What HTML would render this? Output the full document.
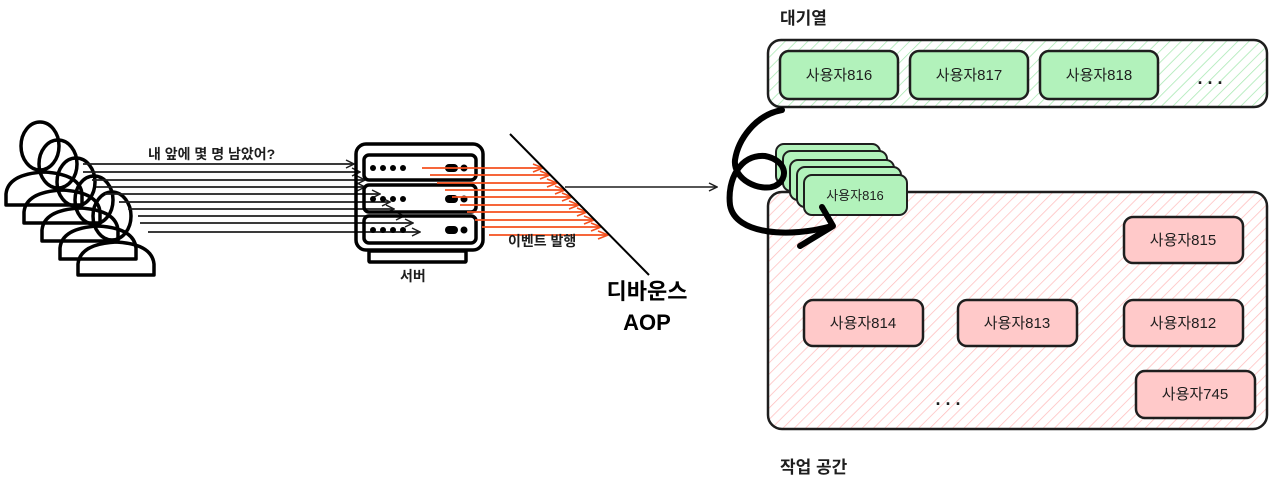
<!DOCTYPE html>
<html><head><meta charset="utf-8"><style>
html,body{margin:0;padding:0;background:#fff;}
svg{display:block;}
text{font-family:"Liberation Sans","Noto Sans CJK KR",sans-serif;}
</style></head><body>
<svg width="1280" height="486" viewBox="0 0 1280 486" xmlns="http://www.w3.org/2000/svg">
<defs>
<pattern id="hg" patternUnits="userSpaceOnUse" width="8" height="8" patternTransform="rotate(45)">
<line x1="0" y1="0" x2="0" y2="8" stroke="#a5e8b0" stroke-width="1.5"/></pattern>
<pattern id="hp" patternUnits="userSpaceOnUse" width="8" height="8" patternTransform="rotate(45)">
<line x1="0" y1="0" x2="0" y2="8" stroke="#ffbdbd" stroke-width="1.5"/></pattern>
<marker id="ab" markerWidth="10" markerHeight="10" refX="9" refY="5" orient="auto" markerUnits="userSpaceOnUse">
<path d="M1,1 L9,5 L1,9" fill="none" stroke="#1e1e1e" stroke-width="1.5"/></marker>
<marker id="ar" markerWidth="12" markerHeight="10" refX="11" refY="5" orient="auto" markerUnits="userSpaceOnUse">
<path d="M1,1 L11,5 L1,9" fill="none" stroke="#f4511e" stroke-width="1.6"/></marker>
<g id="person" fill="none" stroke="#000" stroke-width="3.5" stroke-linejoin="round">
<ellipse cx="40" cy="146" rx="19" ry="24"/>
<path d="M6 205 L6 194 Q8 174 44 172 Q80 174 82 194 L82 205 Z"/>
</g>
</defs>

<!-- people -->
<use href="#person"/>
<use href="#person" transform="translate(18,18)"/>
<use href="#person" transform="translate(36,36)"/>
<use href="#person" transform="translate(54,54)"/>
<use href="#person" transform="translate(72,70)"/>

<text x="148" y="159" font-size="14" font-weight="bold" fill="#1e1e1e">내 앞에 몇 명 남았어?</text>

<!-- black request lines -->
<g stroke="#1e1e1e" stroke-width="1.8" marker-end="url(#ab)">
<line x1="83" y1="164" x2="354" y2="164"/>
<line x1="83" y1="172" x2="360" y2="172"/>
<line x1="92" y1="180" x2="365" y2="180"/>
<line x1="96" y1="187" x2="365" y2="187"/>
<line x1="105" y1="194" x2="380" y2="194"/>
<line x1="119" y1="202" x2="390" y2="202"/>
<line x1="128" y1="209" x2="394" y2="209"/>
<line x1="138" y1="216" x2="404" y2="216"/>
<line x1="140" y1="223" x2="413" y2="223"/>
<line x1="148" y1="232" x2="420" y2="232"/>
</g>

<!-- server -->
<g fill="none" stroke="#000" stroke-width="3.5">
<rect x="356" y="144" width="127" height="106" rx="10"/>
<rect x="364" y="155" width="112" height="25" rx="5"/>
<rect x="364" y="185" width="112" height="27" rx="5"/>
<rect x="364" y="216" width="112" height="27" rx="5"/>
<rect x="369" y="251" width="97" height="11" rx="1"/>
</g>
<g fill="#000">
<circle cx="373" cy="168" r="3"/><circle cx="383" cy="168" r="3"/><circle cx="393" cy="168" r="3"/><circle cx="403" cy="168" r="3"/>
<rect x="445" y="164" width="13" height="8" rx="4"/><circle cx="464" cy="168" r="3.5"/>
<circle cx="373" cy="199" r="3"/><circle cx="383" cy="199" r="3"/><circle cx="393" cy="199" r="3"/><circle cx="403" cy="199" r="3"/>
<rect x="445" y="195" width="13" height="8" rx="4"/><circle cx="464" cy="199" r="3.5"/>
<circle cx="373" cy="230" r="3"/><circle cx="383" cy="230" r="3"/><circle cx="393" cy="230" r="3"/><circle cx="403" cy="230" r="3"/>
<rect x="445" y="226" width="13" height="8" rx="4"/><circle cx="464" cy="230" r="3.5"/>
</g>
<text x="400" y="281" font-size="14" font-weight="bold" fill="#1e1e1e">서버</text>

<!-- red arrows -->
<g stroke="#f4511e" stroke-width="1.8" marker-end="url(#ar)">
<line x1="422" y1="168" x2="543" y2="168"/>
<line x1="430" y1="175" x2="550" y2="175"/>
<line x1="437" y1="183" x2="557" y2="183"/>
<line x1="445" y1="190" x2="565" y2="190"/>
<line x1="452" y1="197" x2="572" y2="197"/>
<line x1="460" y1="205" x2="579" y2="205"/>
<line x1="467" y1="212" x2="587" y2="212"/>
<line x1="475" y1="220" x2="594" y2="220"/>
<line x1="482" y1="227" x2="601" y2="227"/>
<line x1="489" y1="235" x2="608" y2="235"/>
</g>
<line x1="510" y1="134" x2="649" y2="275" stroke="#000" stroke-width="2"/>
<line x1="565" y1="187" x2="717" y2="187" stroke="#1e1e1e" stroke-width="1.6" marker-end="url(#ab)"/>
<text x="508" y="246" font-size="14" font-weight="bold" fill="#1e1e1e">이벤트 발행</text>
<text x="647" y="299" font-size="22" font-weight="bold" fill="#000" text-anchor="middle">디바운스</text>
<text x="647" y="330" font-size="22" font-weight="bold" fill="#000" text-anchor="middle">AOP</text>

<!-- queue -->
<text x="780" y="24" font-size="17" font-weight="bold" fill="#1e1e1e">대기열</text>
<rect x="768" y="40" width="499" height="67" rx="13" fill="url(#hg)" stroke="#1e1e1e" stroke-width="2.5"/>
<g stroke="#1e1e1e" stroke-width="2.5" fill="#b2f2bb">
<rect x="780" y="51" width="118" height="48" rx="9"/>
<rect x="910" y="51" width="118" height="48" rx="9"/>
<rect x="1040" y="51" width="118" height="48" rx="9"/>
</g>
<g font-size="15" fill="#1e1e1e" text-anchor="middle">
<text x="839" y="80">사용자816</text><text x="969" y="80">사용자817</text><text x="1099" y="80">사용자818</text>
</g>
<text x="1210" y="84" font-size="18" font-weight="bold" fill="#1e1e1e" text-anchor="middle">. . .</text>

<!-- work space -->
<rect x="768" y="192" width="499" height="237" rx="14" fill="url(#hp)" stroke="#1e1e1e" stroke-width="2.5"/>
<g stroke="#1e1e1e" stroke-width="2.5" fill="#ffc9c9">
<rect x="1124" y="217" width="119" height="46" rx="9"/>
<rect x="804" y="300" width="119" height="46" rx="9"/>
<rect x="958" y="300" width="119" height="46" rx="9"/>
<rect x="1124" y="300" width="119" height="46" rx="9"/>
<rect x="1136" y="371" width="119" height="47" rx="9"/>
</g>
<g font-size="15" fill="#1e1e1e" text-anchor="middle">
<text x="1183" y="245">사용자815</text>
<text x="863" y="328">사용자814</text>
<text x="1017" y="328">사용자813</text>
<text x="1183" y="328">사용자812</text>
<text x="1195" y="399">사용자745</text>
</g>
<text x="948" y="405" font-size="18" font-weight="bold" fill="#1e1e1e" text-anchor="middle">. . .</text>
<text x="780" y="473" font-size="17" font-weight="bold" fill="#1e1e1e">작업 공간</text>

<!-- stacked cards -->
<g stroke="#1e1e1e" stroke-width="2" fill="#b2f2bb">
<rect x="776" y="144" width="104" height="40" rx="8"/>
<rect x="783" y="151" width="104" height="40" rx="8"/>
<rect x="790" y="160" width="104" height="40" rx="8"/>
<rect x="797" y="167" width="104" height="40" rx="8"/>
<rect x="804" y="175" width="103" height="40" rx="8"/>
</g>
<text x="855" y="200" font-size="13" fill="#1e1e1e" text-anchor="middle">사용자816</text>

<!-- thick loop arrow -->
<g fill="none" stroke="#000" stroke-width="6" stroke-linecap="round" stroke-linejoin="round">
<path d="M782 110 C755 115 738 140 735 160 C733 180 760 192 775 186 C790 178 786 160 765 156 C740 154 727 180 730 205 C735 235 790 238 832 226"/>
<path d="M822 207 L833 226 L800 246"/>
</g>
</svg>
</body></html>
